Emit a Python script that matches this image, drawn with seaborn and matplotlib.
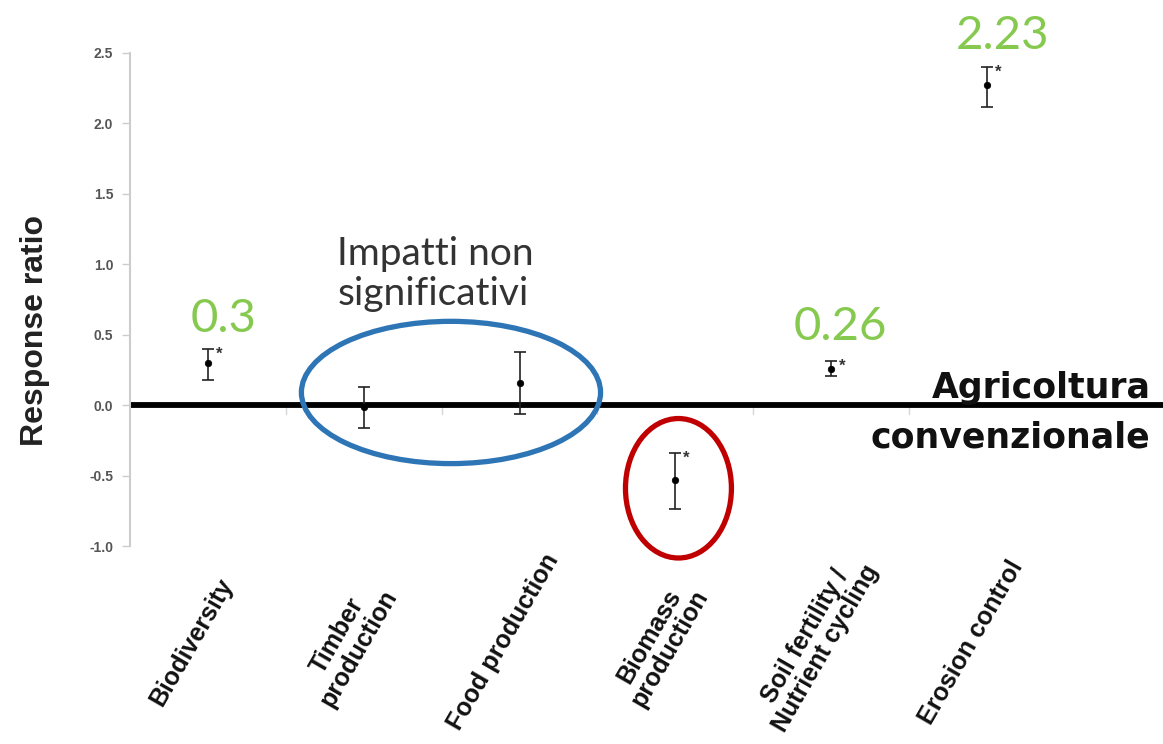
import numpy as np
import pandas as pd
import matplotlib
matplotlib.use('Agg')
import matplotlib.pyplot as plt
import matplotlib.transforms as mtransforms
from matplotlib.patches import Ellipse
import seaborn as sns

# Dati (response ratio con intervallo)
categories = ['Biodiversity', 'Timber\nproduction', 'Food production',
              'Biomass\nproduction', 'Soil fertility /\nNutrient cycling', 'Erosion control']
means = [0.30, -0.01, 0.16, -0.53, 0.26, 2.27]
lower = [0.18, -0.16, -0.06, -0.74, 0.21, 2.12]
upper = [0.40, 0.13, 0.38, -0.34, 0.31, 2.40]
significant = [True, False, False, True, True, True]
y_ticks = [-1.0, -0.5, 0.0, 0.5, 1.0, 1.5, 2.0, 2.5]

sns.set_theme(style='white')
plt.rcParams['font.family'] = ['Liberation Sans', 'DejaVu Sans']
plt.rcParams['axes.unicode_minus'] = False

df = pd.DataFrame({'pos': np.arange(len(categories)), 'mean': means,
                   'lower': lower, 'upper': upper})

fig = plt.figure(figsize=(11.63, 7.44), dpi=100)
ax = fig.add_axes([0.1118, 0.2661, 1.0 - 0.1118, 0.9288 - 0.2661])

# linea di riferimento (agricoltura convenzionale)
ax.axhline(0, color='black', lw=4.2, zorder=1)

# piccoli tick grigi tra le categorie sulla linea dello zero
for i in range(len(categories) - 1):
    ax.plot([i + 0.5, i + 0.5], [0, -0.06], color='#d5d5d5', lw=1, zorder=0)

ax.errorbar(df['pos'], df['mean'],
            yerr=[df['mean'] - df['lower'], df['upper'] - df['mean']],
            fmt='none', ecolor='#222222', elinewidth=1.2, capsize=4, capthick=1.2, zorder=3)
sns.scatterplot(data=df, x='pos', y='mean', color='black', s=22, edgecolor='black',
                linewidth=0.5, ax=ax, zorder=4, legend=False)

for i, sig in enumerate(significant):
    if sig:
        ax.annotate('*', (i, upper[i]), xytext=(8, -9), textcoords='offset points',
                    fontsize=12, fontweight='bold', color='#333333', ha='center', va='bottom')

ax.set_xlim(-0.50, 6.13)
ax.set_ylim(-1.0, 2.5)
ax.set_yticks(y_ticks)
ax.set_yticklabels([f'{t:.1f}' for t in y_ticks], fontsize=10, fontweight='bold', color='#555555')
ax.tick_params(axis='y', which='both', left=True, length=6, width=1, color='#cccccc', pad=6)
ax.set_xticks([])
ax.set_xlabel('')
ax.set_ylabel('Response ratio', fontsize=23, fontweight='bold', color='#222222')
ax.yaxis.set_label_coords(-0.077, 0.438)

sns.despine(ax=ax, top=True, right=True, bottom=True)
ax.spines['left'].set_color('#cccccc')
ax.spines['left'].set_linewidth(1.5)

# etichette categorie ruotate
label_trans = mtransforms.offset_copy(
    mtransforms.blended_transform_factory(ax.transData, fig.transFigure),
    fig=fig, x=-16, y=0, units='dots')
for i, cat in enumerate(categories):
    ax.text(i, 1 - 642 / 744, cat, transform=label_trans, rotation=60,
            rotation_mode='anchor', ha='center', va='center', multialignment='center',
            fontsize=18, fontweight='bold', color='#111111', linespacing=1.0)

# valori in verde
green = '#86c94f'
for x, y, txt in [(0.10, 0.52, '0.3'), (4.06, 0.46, '0.26'), (5.10, 2.53, '2.23')]:
    ax.text(x, y, txt, fontsize=34, color=green, ha='center', va='baseline',
            family=['Lato', 'DejaVu Sans'], clip_on=False)

# ellissi
ax.add_patch(Ellipse((1.56, 0.09), 1.92, 1.01, fill=False, edgecolor='#2e75b6',
                     lw=3.8, clip_on=False, zorder=5))
ax.add_patch(Ellipse((3.02, -0.59), 0.68, 0.99, fill=False, edgecolor='#c00000',
                     lw=3.8, clip_on=False, zorder=5))

ax.text(0.83, 0.71, 'Impatti non\nsignificativi', fontsize=28, color='#333333',
        ha='left', va='baseline', linespacing=1.15, family=['Lato', 'DejaVu Sans'])

ax.text(6.05, 0.05, 'Agricoltura', fontsize=25, fontweight='bold', color='#111111',
        ha='right', va='baseline', family=['DejaVu Sans'])
ax.text(6.05, -0.30, 'convenzionale', fontsize=25, fontweight='bold', color='#111111',
        ha='right', va='baseline', family=['DejaVu Sans'])

fig.savefig('out.png', dpi=100)
